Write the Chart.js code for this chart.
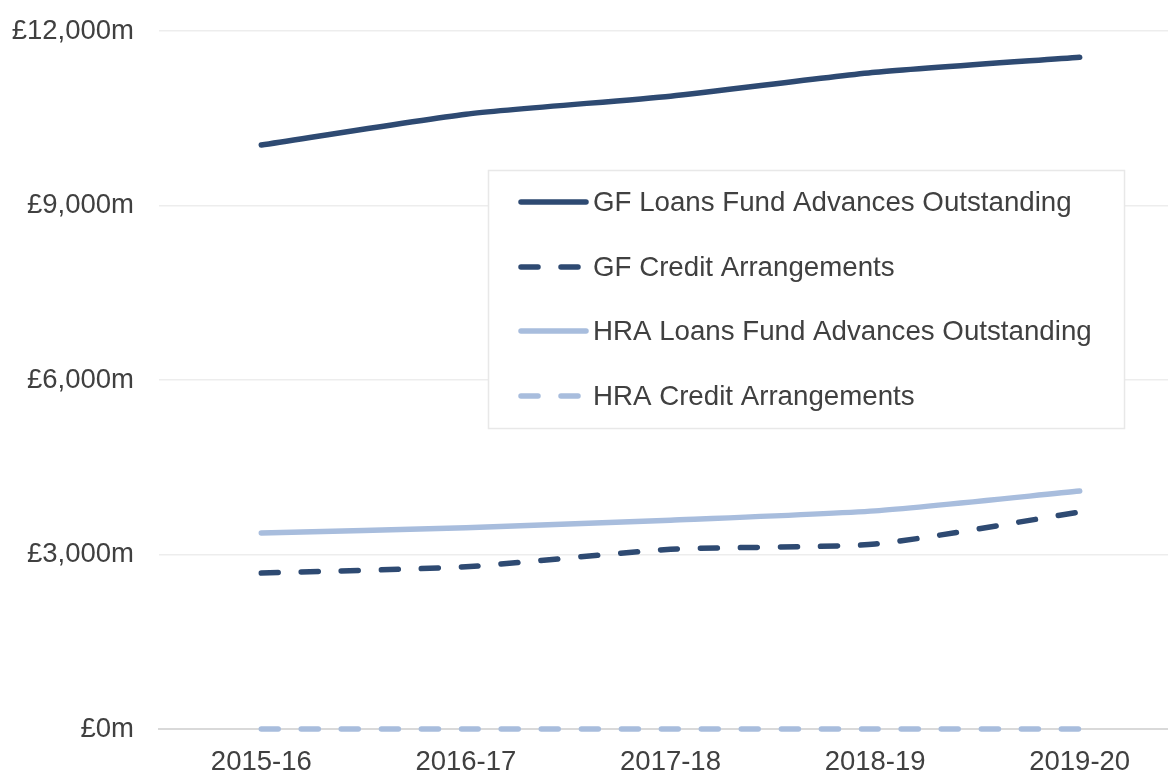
<!DOCTYPE html>
<html>
<head>
<meta charset="utf-8">
<script src="https://cdn.jsdelivr.net/npm/chart.js@4/dist/chart.umd.min.js"></script>
<style>
  html, body { margin: 0; padding: 0; background: #fff; overflow: hidden; }
  #wrap { width: 1182px; height: 774px; }
</style>
</head>
<body>
<div id="wrap"><canvas id="chart" width="1182" height="774"></canvas></div>
<script>
const years = ['2015-16', '2016-17', '2017-18', '2018-19', '2019-20'];
const gfLoans = [10040, 10570, 10880, 11290, 11550];
const gfCredit = [2680, 2790, 3090, 3180, 3730];
const hraLoans = [3370, 3460, 3590, 3750, 4090];
const hraCredit = [0, 0, 0, 0, 0];
const yTicks = [0, 3000, 6000, 9000, 12000];

const dark = '#2E4A72';
const light = '#A8BDDD';
const textColor = '#404040';
const font = "'Liberation Sans', Arial, sans-serif";

// legend box drawn inside the plot, like the original
const boxLegend = {
  id: 'boxLegend',
  afterDraw(chart) {
    const ctx = chart.ctx;
    ctx.save();
    ctx.fillStyle = '#fff';
    ctx.fillRect(488, 170, 636, 258);
    ctx.strokeStyle = '#E8E8E8';
    ctx.lineWidth = 1.5;
    ctx.strokeRect(488.5, 170.5, 636, 258);
    const rowY = [202, 267, 331, 396];
    chart.data.datasets.forEach((ds, i) => {
      const y = rowY[i];
      ctx.strokeStyle = ds.borderColor;
      ctx.lineWidth = ds.borderWidth;
      ctx.lineCap = 'round';
      ctx.setLineDash(ds.borderDash || []);
      ctx.beginPath();
      ctx.moveTo(521, y);
      ctx.lineTo(586, y);
      ctx.stroke();
      ctx.setLineDash([]);
      ctx.fillStyle = textColor;
      ctx.font = '27.7px ' + font;
      ctx.textBaseline = 'middle';
      ctx.fillText(ds.label, 593, y + 1);
    });
    ctx.restore();
  }
};

new Chart(document.getElementById('chart'), {
  type: 'line',
  data: {
    labels: years,
    datasets: [
      { label: 'GF Loans Fund Advances Outstanding', data: gfLoans, borderColor: dark, borderWidth: 5.5 },
      { label: 'GF Credit Arrangements', data: gfCredit, borderColor: dark, borderWidth: 5.5, borderDash: [17, 23] },
      { label: 'HRA Loans Fund Advances Outstanding', data: hraLoans, borderColor: light, borderWidth: 5.5 },
      { label: 'HRA Credit Arrangements', data: hraCredit, borderColor: light, borderWidth: 5.5, borderDash: [17, 23] }
    ]
  },
  options: {
    responsive: false,
    animation: false,
    clip: false,
    layout: { padding: { top: 31, left: 0, right: 0, bottom: 0 } },
    elements: {
      point: { radius: 0 },
      line: { tension: 0.2, borderCapStyle: 'round', borderJoinStyle: 'round' }
    },
    plugins: { legend: { display: false }, tooltip: { enabled: false } },
    scales: {
      x: {
        offset: true,
        grid: { display: false, drawTicks: false },
        border: { display: true, color: '#D9D9D9', width: 2 },
        ticks: { color: textColor, font: { family: font, size: 27.5 }, padding: 17, maxRotation: 0 },
        afterFit(scale) { scale.height = 45; }
      },
      y: {
        min: 0,
        max: 12000,
        afterBuildTicks(scale) { scale.ticks = yTicks.map(v => ({ value: v })); },
        grid: { color: '#EDEDED', lineWidth: 1.5, drawTicks: true, tickLength: 25, tickColor: 'rgba(0,0,0,0)' },
        border: { display: false },
        ticks: {
          color: textColor,
          font: { family: font, size: 27.5 },
          padding: 0,
          callback: v => '£' + v.toLocaleString('en-GB') + 'm'
        },
        afterFit(scale) { scale.width = 159; }
      }
    }
  },
  plugins: [boxLegend]
});
</script>
</body>
</html>
